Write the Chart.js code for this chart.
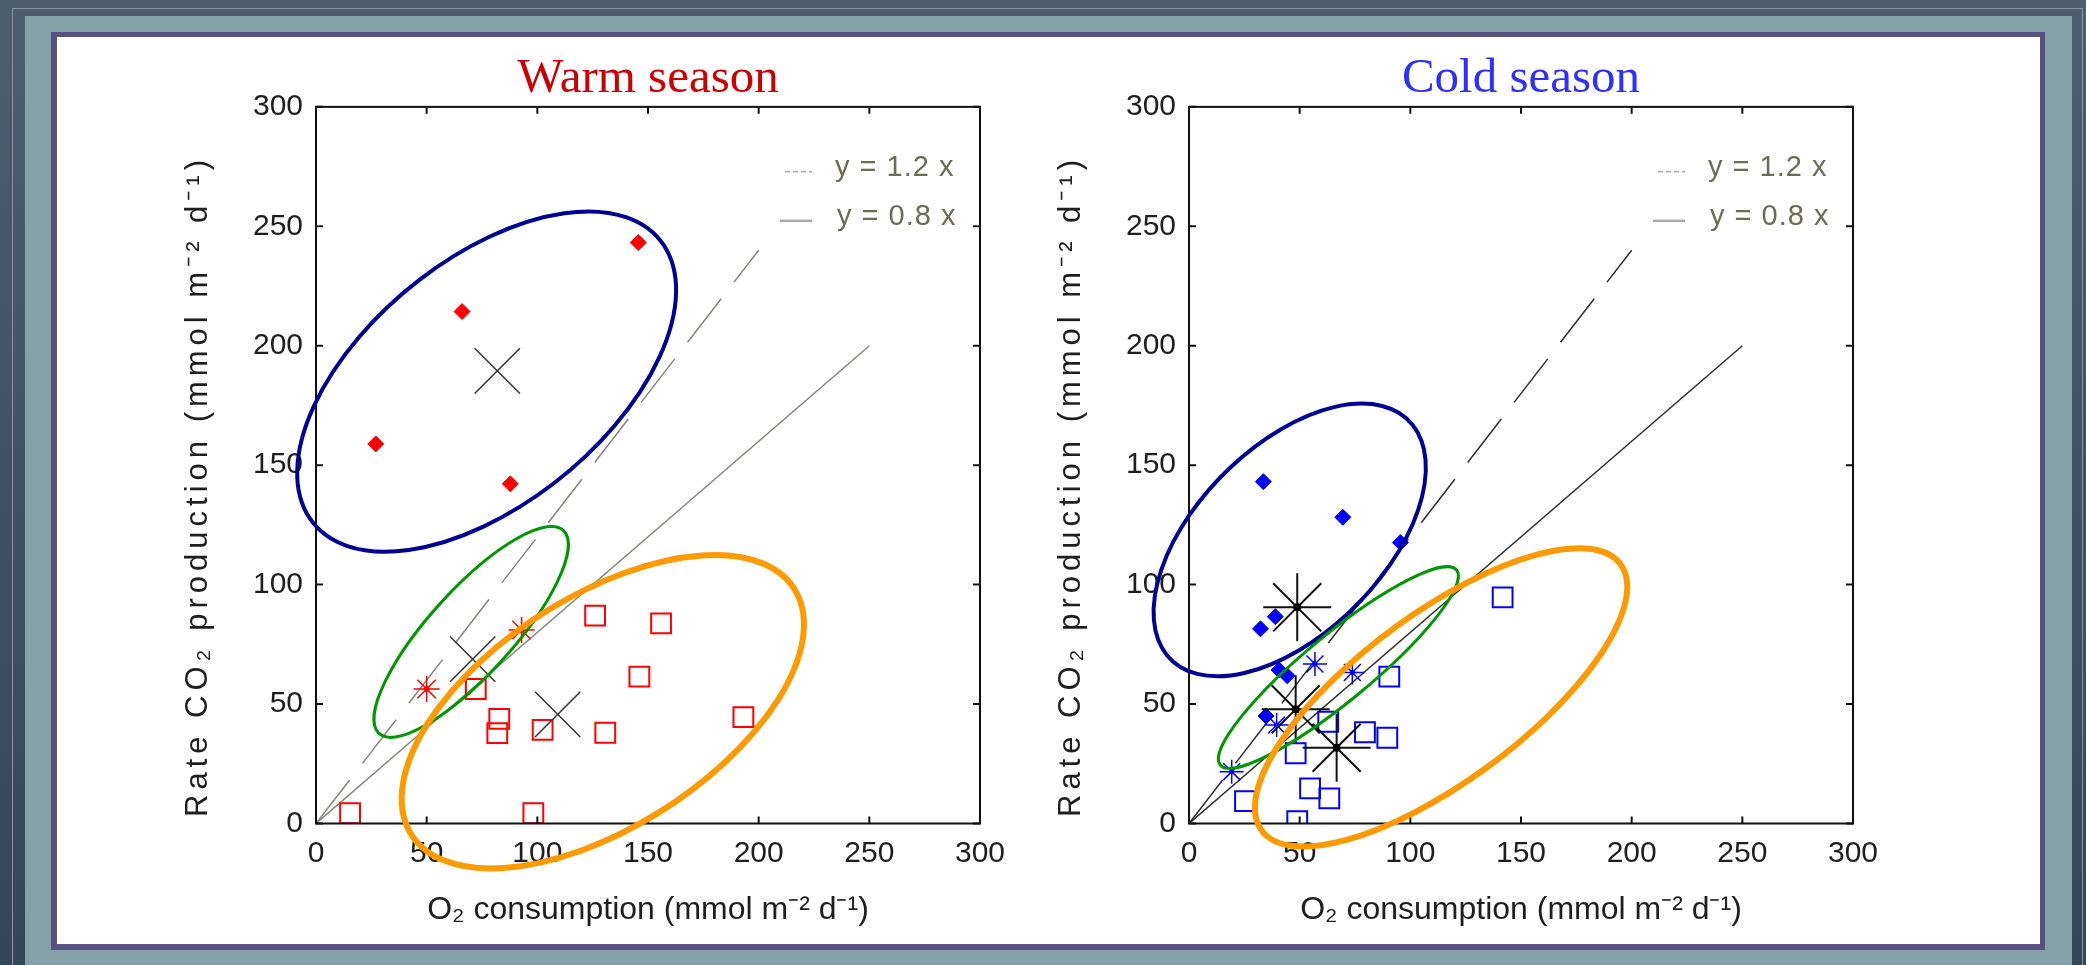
<!DOCTYPE html>
<html>
<head>
<meta charset="utf-8">
<script src="https://cdn.jsdelivr.net/npm/chart.js@4.4.0/dist/chart.umd.min.js"></script>
<style>
  html, body { margin: 0; padding: 0; }
  body {
    width: 2086px; height: 965px; position: relative; overflow: hidden;
    background: linear-gradient(180deg, #4c5f71 0%, #415467 45%, #34475a 100%);
  }
  #edge { position: absolute; left: 12px; top: 8px; width: 2071px; height: 990px; border: 1px solid #8b939b; box-sizing: border-box; }
  #band { position: absolute; left: 25px; top: 16px; width: 2047px; height: 960px; background: #84a0a8; }
  #rim { position: absolute; left: 51px; top: 32px; width: 1994px; height: 918px; background: #57527f; }
  #panel { position: absolute; left: 57px; top: 37px; width: 1983px; height: 907px; background: #fff; }
  canvas { position: absolute; top: 40px; }
  #warm { left: 160px; }
  #cold { left: 1033px; }
</style>
</head>
<body>
<div id="edge"></div>
<div id="band"></div>
<div id="rim"></div>
<div id="panel"></div>
<canvas id="warm" width="880" height="905"></canvas>
<canvas id="cold" width="880" height="905"></canvas>
<script>
// reference lines (end points)
const lineHigh = [{ x: 0, y: 0 }, { x: 200, y: 240 }];
const lineLow = [{ x: 0, y: 0 }, { x: 250, y: 200 }];
const lineLabels = ["y = 1.2 x", "y = 0.8 x"];

// warm season
const warmDiamonds = [
  { x: 145.6, y: 243.2 }, { x: 66.0, y: 214.3 }, { x: 27.0, y: 158.9 }, { x: 87.8, y: 142.2 },
];
const warmStars = [{ x: 50.0, y: 56.3 }, { x: 92.9, y: 81.0 }];
const warmSquares = [
  { x: 126.1, y: 87.0 }, { x: 155.9, y: 83.8 }, { x: 146.1, y: 61.5 }, { x: 193.1, y: 44.5 },
  { x: 72.2, y: 56.3 }, { x: 82.8, y: 43.8 }, { x: 81.9, y: 37.8 }, { x: 102.4, y: 39.2 },
  { x: 130.7, y: 38.0 }, { x: 15.4, y: 4.3 }, { x: 98.2, y: 4.3 },
];
const warmCentres = [{ x: 81.9, y: 189.5 }, { x: 70.8, y: 68.8 }, { x: 109.2, y: 45.7 }];
// ellipses: centre x, centre y, semi-axis a, semi-axis b, angle (deg), in data units
const warmEllipses = [
  [77.1, 185.0, 98.3, 52.3, 35.5],
  [70.1, 80.2, 59.5, 18.3, 45.2],
  [129.6, 46.8, 100.7, 49.2, 29.6],
];

// cold season
const coldDiamonds = [
  { x: 33.6, y: 143.1 }, { x: 69.5, y: 128.2 }, { x: 95.5, y: 117.6 }, { x: 39.0, y: 86.6 },
  { x: 32.3, y: 81.5 }, { x: 40.7, y: 64.3 }, { x: 44.4, y: 61.8 }, { x: 34.8, y: 45.0 },
];
const coldStars = [{ x: 56.9, y: 66.8 }, { x: 73.8, y: 63.2 }, { x: 39.6, y: 41.2 }, { x: 19.3, y: 21.7 }];
const coldSquares = [
  { x: 141.7, y: 94.7 }, { x: 90.5, y: 61.5 }, { x: 62.9, y: 42.6 }, { x: 79.5, y: 38.2 },
  { x: 89.6, y: 35.9 }, { x: 48.2, y: 29.4 }, { x: 54.7, y: 14.7 }, { x: 63.4, y: 10.5 },
  { x: 25.3, y: 9.4 }, { x: 48.9, y: 1.0 },
];
const coldCentres = [{ x: 48.9, y: 90.5 }, { x: 48.2, y: 47.8 }, { x: 66.7, y: 31.7 }];
const coldEllipses = [
  [45.5, 118.7, 73.5, 40.5, 41.0],
  [67.5, 65.3, 67.2, 14.3, 37.2],
  [113.9, 52.8, 98.4, 35.9, 33.9],
];

const ellipseColors = ["#000096", "#009600", "#ff9900"];
const xTitle = "O\u2082 consumption (mmol m\u207B\u00B2 d\u207B\u00B9)";
const yTitle = "Rate CO\u2082 production (mmol m\u207B\u00B2 d\u207B\u00B9)";

Chart.defaults.font.family = "'Liberation Sans', Arial, sans-serif";
Chart.defaults.color = "#1e1e1e";

// box round the plot with inward ticks on all four sides
const frameTicks = {
  id: "frameTicks",
  afterDatasetsDraw(chart) {
    const { ctx, chartArea: a, scales: { x, y } } = chart;
    ctx.save();
    ctx.strokeStyle = "#111";
    ctx.lineWidth = 2;
    ctx.strokeRect(a.left, a.top, a.right - a.left, a.bottom - a.top);
    ctx.beginPath();
    x.ticks.forEach((t) => {
      const px = x.getPixelForValue(t.value);
      ctx.moveTo(px, a.bottom); ctx.lineTo(px, a.bottom - 7);
      ctx.moveTo(px, a.top); ctx.lineTo(px, a.top + 7);
    });
    y.ticks.forEach((t) => {
      const py = y.getPixelForValue(t.value);
      ctx.moveTo(a.left, py); ctx.lineTo(a.left + 7, py);
      ctx.moveTo(a.right, py); ctx.lineTo(a.right - 7, py);
    });
    ctx.stroke();
    ctx.restore();
  },
};

// group ellipses, given in data units
const groupEllipses = {
  id: "groupEllipses",
  afterDatasetsDraw(chart, args, opts) {
    const { ctx, scales: { x, y } } = chart;
    const kx = x.getPixelForValue(1) - x.getPixelForValue(0);
    const ky = y.getPixelForValue(0) - y.getPixelForValue(1);
    opts.items.forEach((e, i) => {
      const [cx, cy, ra, rb, deg] = e;
      ctx.save();
      ctx.translate(x.getPixelForValue(cx), y.getPixelForValue(cy));
      ctx.scale(kx, -ky);
      ctx.rotate((deg * Math.PI) / 180);
      ctx.beginPath();
      ctx.ellipse(0, 0, ra, rb, 0, 0, Math.PI * 2);
      ctx.restore();
      ctx.save();
      ctx.strokeStyle = opts.colors[i];
      ctx.lineWidth = opts.widths[i];
      ctx.stroke();
      ctx.restore();
    });
  },
};

// small legend in the top right corner of the plot
const cornerLegend = {
  id: "cornerLegend",
  afterDraw(chart, args, opts) {
    const { ctx, chartArea: a } = chart;
    ctx.save();
    ctx.font = "29px 'Liberation Sans', Arial, sans-serif";
    ctx.letterSpacing = "1px";
    ctx.textBaseline = "middle";
    ctx.fillStyle = "#6c6c56";
    opts.labels.forEach((txt, i) => {
      const yy = a.top + 61 + i * 49;
      ctx.beginPath();
      ctx.strokeStyle = "#a8a8a8";
      ctx.lineWidth = i === 0 ? 1.5 : 2.5;
      ctx.setLineDash(i === 0 ? [5, 3] : []);
      ctx.moveTo(a.right - (i === 0 ? 195 : 200), yy + 4);
      ctx.lineTo(a.right - 168, yy + 4);
      ctx.stroke();
      ctx.fillText(txt, a.right - 145 + i * 2, yy);
    });
    ctx.restore();
  },
};

// spaced-out vertical axis title
const sideTitle = {
  id: "sideTitle",
  afterDraw(chart, args, opts) {
    const { ctx } = chart;
    ctx.save();
    ctx.translate(38, 446);
    ctx.rotate(-Math.PI / 2);
    ctx.font = "31px 'Liberation Sans', Arial, sans-serif";
    ctx.letterSpacing = "5px";
    ctx.fillStyle = "#1e1e1e";
    ctx.textAlign = "center";
    ctx.textBaseline = "middle";
    ctx.fillText(opts.text, 0, 0);
    ctx.restore();
  },
};

function buildChart(id, title, titleColor, sets, ellipses, widths) {
  return new Chart(document.getElementById(id), {
    type: "scatter",
    data: { datasets: sets },
    options: {
      responsive: false,
      animation: false,
      events: [],
      layout: { padding: { left: 0, top: 0, right: 60, bottom: 0 } },
      plugins: {
        legend: { display: false },
        tooltip: { enabled: false },
        title: {
          display: true,
          text: title,
          color: titleColor,
          fullSize: false,
          font: { family: "'Liberation Serif', 'Times New Roman', serif", size: 49, weight: "normal", lineHeight: 1.14 },
          padding: { top: 11, bottom: 0 },
        },
        groupEllipses: { items: ellipses, colors: ellipseColors, widths: widths },
        cornerLegend: { labels: lineLabels },
        sideTitle: { text: yTitle },
      },
      scales: {
        x: {
          type: "linear", min: 0, max: 300,
          afterFit: (s) => { s.height = 121.5; },
          grid: { display: false, drawTicks: false },
          border: { display: false },
          ticks: { stepSize: 50, padding: 12, font: { size: 30 }, color: "#1e1e1e" },
          title: { display: true, text: xTitle, font: { size: 32 }, color: "#1e1e1e", padding: { top: 0, bottom: 16 } },
        },
        y: {
          type: "linear", min: 0, max: 300,
          afterFit: (s) => { s.width = 156; },
          grid: { display: false, drawTicks: false },
          border: { display: false },
          ticks: { stepSize: 50, padding: 13, font: { size: 30 }, color: "#1e1e1e" },
          title: { display: false, text: yTitle },
        },
      },
    },
    plugins: [frameTicks, groupEllipses, cornerLegend, sideTitle],
  });
}

function refLines(color) {
  return [
    { data: lineHigh, showLine: true, pointRadius: 0, borderColor: color, borderWidth: 1.5, borderDash: [55, 21] },
    { data: lineLow, showLine: true, pointRadius: 0, borderColor: color, borderWidth: 1.5 },
  ];
}

const warmSets = [
  { data: warmCentres, pointStyle: "crossRot", pointRadius: 32, borderColor: "#333", borderWidth: 1.5 },
  { data: warmDiamonds, pointStyle: "rectRot", pointRadius: 8, backgroundColor: "#ff0000", borderColor: "#ff0000", borderWidth: 1 },
  { data: warmStars, pointStyle: "circle", pointRadius: 3, backgroundColor: "#ff0000", borderColor: "#ff0000", borderWidth: 0 },
  { data: warmStars, pointStyle: "star", pointRadius: 13, borderColor: "#ff0000", borderWidth: 1.5 },
  { data: warmSquares, pointStyle: "rect", pointRadius: 14, backgroundColor: "rgba(0,0,0,0)", borderColor: "#ff0000", borderWidth: 2 },
].concat(refLines("#86867a"));

const coldSets = [
  { data: coldCentres, pointStyle: "circle", pointRadius: 4, backgroundColor: "#000", borderColor: "#000", borderWidth: 0 },
  { data: coldCentres, pointStyle: "star", pointRadius: 34, borderColor: "#111", borderWidth: 2 },
  { data: coldDiamonds, pointStyle: "rectRot", pointRadius: 8, backgroundColor: "#0000ff", borderColor: "#0000ff", borderWidth: 1 },
  { data: coldStars, pointStyle: "circle", pointRadius: 2.5, backgroundColor: "#0000ff", borderColor: "#0000ff", borderWidth: 0 },
  { data: coldStars, pointStyle: "star", pointRadius: 12, borderColor: "#0000ff", borderWidth: 1.5 },
  { data: coldSquares, pointStyle: "rect", pointRadius: 14, backgroundColor: "rgba(0,0,0,0)", borderColor: "#0000ff", borderWidth: 2 },
].concat(refLines("#2e2e2e"));

buildChart("warm", "Warm season", "#cc0000", warmSets, warmEllipses, [4, 3, 6]);
buildChart("cold", "Cold season", "#2f2fff", coldSets, coldEllipses, [4, 3, 6]);
</script>
</body>
</html>
